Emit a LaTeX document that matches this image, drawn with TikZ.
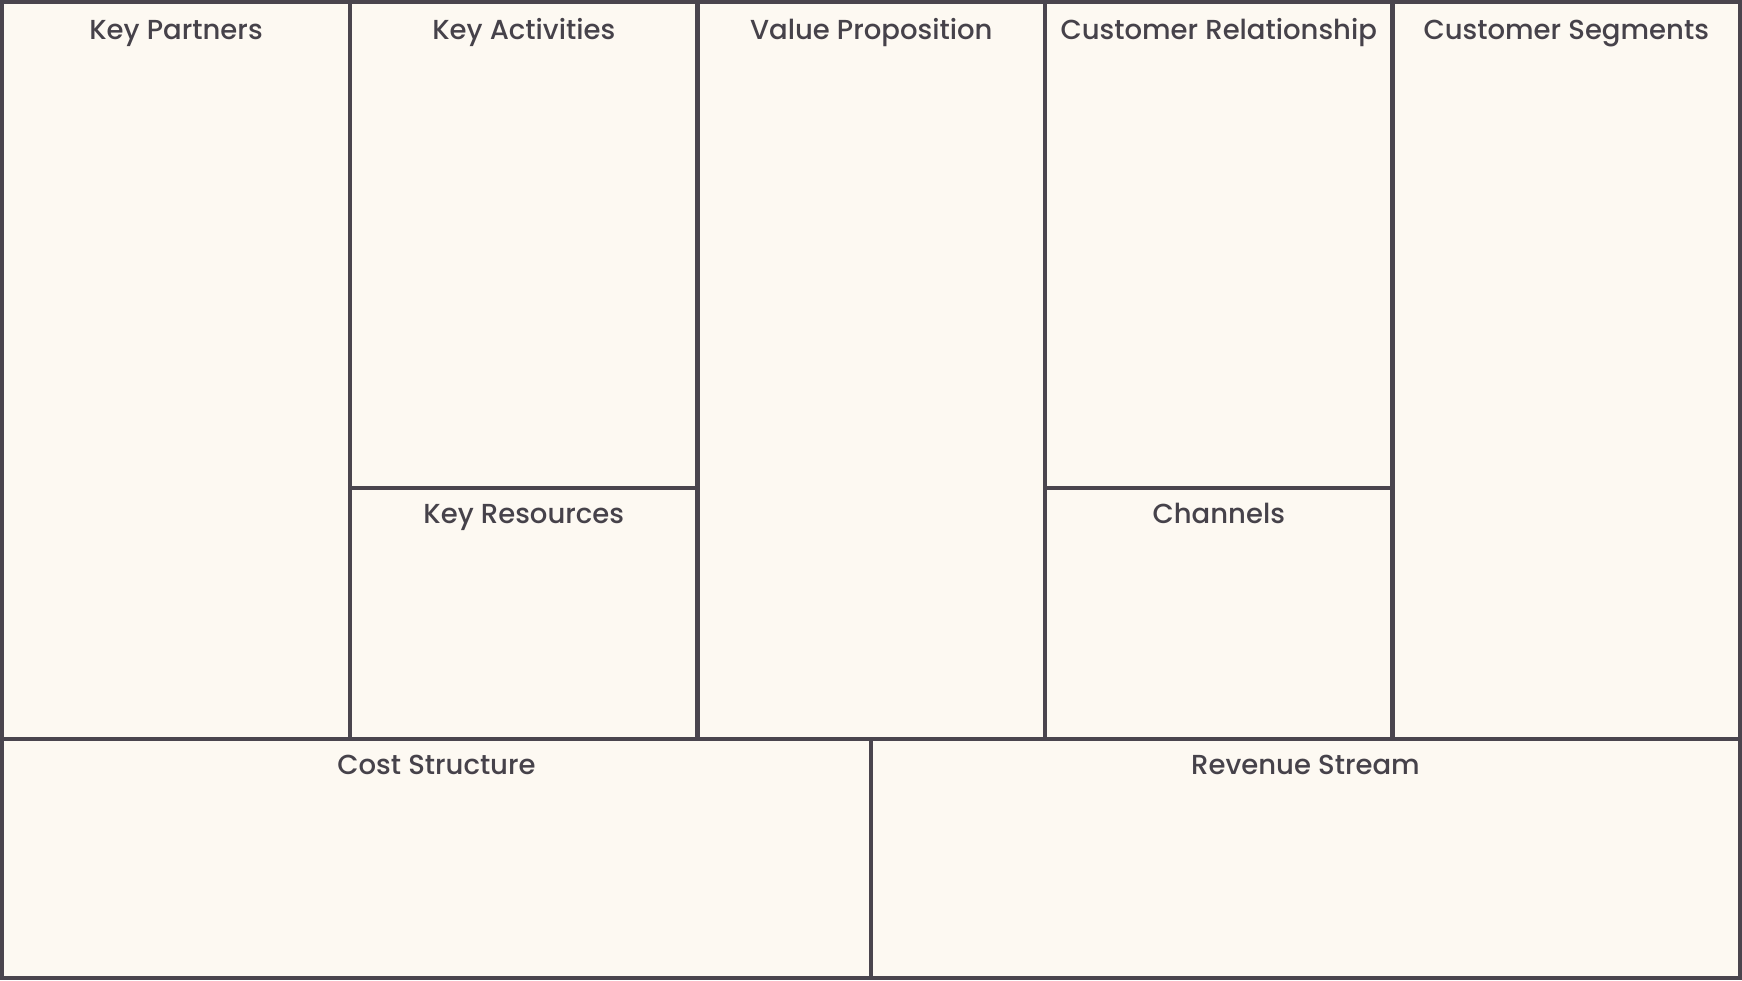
\documentclass[tikz,border=0pt]{standalone}
\usepackage{fontspec}
\setmainfont{Poppins Medium}
\definecolor{bg}{HTML}{FDF9F2}
\definecolor{ln}{HTML}{4A454E}
\definecolor{tx}{HTML}{46424A}
\tikzset{
  grid line/.style={draw=ln, line width=4.3pt, line cap=rect, line join=miter},
  cell label/.style={anchor=base, text=tx, font=\fontsize{27.5}{31}\selectfont, inner sep=0pt}
}
\begin{document}
\begin{tikzpicture}[x=1pt,y=-1pt]
\useasboundingbox (0,0) rectangle (1742,980);
\fill[bg] (0,0) rectangle (1742,980);
% grid
\draw[grid line] (2,2) rectangle (1740,978);
\draw[grid line] (350,2) -- (350,739);
\draw[grid line] (697.5,2) -- (697.5,739);
\draw[grid line] (1045,2) -- (1045,739);
\draw[grid line] (1392.5,2) -- (1392.5,739);
\draw[grid line] (2,739) -- (1740,739);
\draw[grid line] (350,488) -- (697.5,488);
\draw[grid line] (1045,488) -- (1392.5,488);
\draw[grid line] (871,739) -- (871,978);
% labels
\node[cell label] (kp) at (176,39) {Key Partners};
\node[cell label] (ka) at (523.75,39) {Key Activities};
\node[cell label] (vp) at (871.25,39) {Value Proposition};
\node[cell label] (cr) at (1218.75,39) {Customer Relationship};
\node[cell label] (cs) at (1566.25,39) {Customer Segments};
\node[cell label] (kr) at (523.75,523) {Key Resources};
\node[cell label] (ch) at (1218.75,523) {Channels};
\node[cell label] (cost) at (436.5,774) {Cost Structure};
\node[cell label] (rev) at (1305.5,774) {Revenue Stream};
\end{tikzpicture}
\end{document}
